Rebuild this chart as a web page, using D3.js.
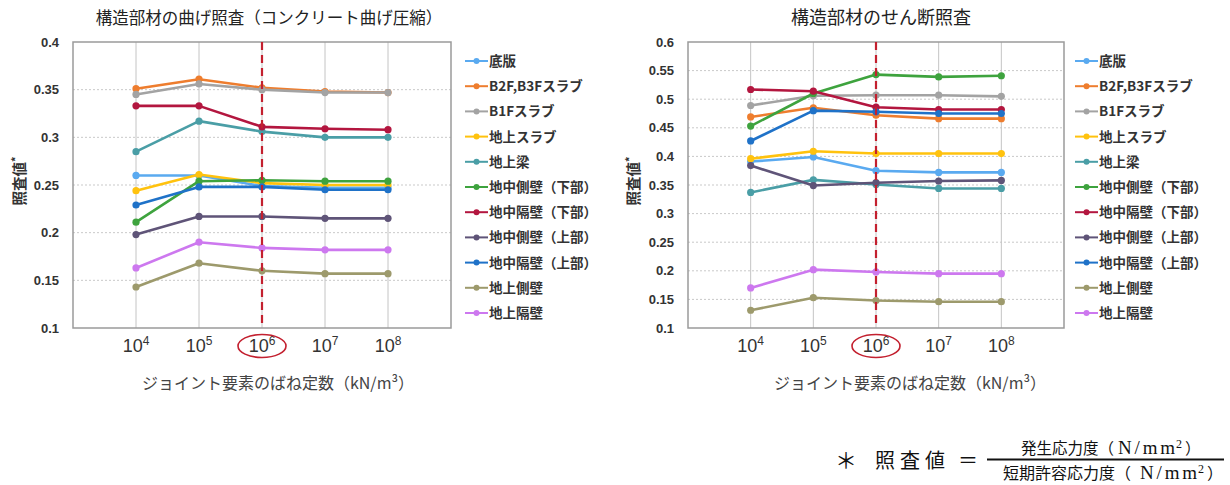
<!DOCTYPE html>
<html><head><meta charset="utf-8">
<script src="https://cdn.jsdelivr.net/npm/d3@7"></script>
<style>body{margin:0;background:#fff} svg{display:block}</style>
</head><body><svg id="c" width="1230" height="485"></svg>
<script>
// ---------- data ----------
const categories = ["10^4", "10^5", "10^6", "10^7", "10^8"];
const categoryExponents = ["4", "5", "6", "7", "8"];
const highlightCategory = "10^6";
const seriesNames = ["底版", "B2F,B3Fスラブ", "B1Fスラブ", "地上スラブ", "地上梁",
  "地中側壁（下部）", "地中隔壁（下部）", "地中側壁（上部）", "地中隔壁（上部）", "地上側壁", "地上隔壁"];
const bendingValues = [
  [0.260, 0.260, 0.249, 0.247, 0.247],
  [0.351, 0.361, 0.352, 0.348, 0.347],
  [0.345, 0.356, 0.350, 0.347, 0.347],
  [0.244, 0.261, 0.252, 0.250, 0.250],
  [0.285, 0.317, 0.306, 0.300, 0.300],
  [0.211, 0.254, 0.255, 0.254, 0.254],
  [0.333, 0.333, 0.311, 0.309, 0.308],
  [0.198, 0.217, 0.217, 0.215, 0.215],
  [0.229, 0.248, 0.248, 0.245, 0.245],
  [0.143, 0.168, 0.160, 0.157, 0.157],
  [0.163, 0.190, 0.184, 0.182, 0.182]
];
const shearValues = [
  [0.391, 0.399, 0.375, 0.372, 0.372],
  [0.469, 0.485, 0.472, 0.466, 0.466],
  [0.489, 0.506, 0.507, 0.507, 0.505],
  [0.396, 0.409, 0.405, 0.405, 0.405],
  [0.337, 0.359, 0.351, 0.344, 0.344],
  [0.453, 0.510, 0.543, 0.539, 0.541],
  [0.517, 0.514, 0.486, 0.482, 0.482],
  [0.384, 0.349, 0.354, 0.357, 0.358],
  [0.427, 0.480, 0.478, 0.475, 0.475],
  [0.131, 0.153, 0.148, 0.146, 0.146],
  [0.170, 0.202, 0.198, 0.195, 0.195]
];
const bendingTicks = [0.1, 0.15, 0.2, 0.25, 0.3, 0.35, 0.4];
const shearTicks = [0.1, 0.15, 0.2, 0.25, 0.3, 0.35, 0.4, 0.45, 0.5, 0.55, 0.6];
const bendingTitle = "構造部材の曲げ照査（コンクリート曲げ圧縮）";
const shearTitle = "構造部材のせん断照査";
const yAxisTitle = "照査値";
const xAxisTitle = "ジョイント要素のばね定数（kN/m³）";
const numeratorLabel = "発生応力度";
const denominatorLabel = "短期許容応力度";
const unitLabel = "N/mm";

// ---------- styles ----------
const seriesColors = ["#5aaaf0", "#ee7d2e", "#a3a3a3", "#ffc20e", "#4a9ea6",
  "#3ea33e", "#b3163f", "#5f5478", "#1f72c8", "#9d9a6c", "#cd78ef"];
const CJK = "'Noto Sans CJK JP', 'Noto Sans', sans-serif";
const SERIF = "'Liberation Serif', 'DejaVu Serif', serif";

const svg = d3.select("#c");
svg.append("rect").attr("width", 1230).attr("height", 485).attr("fill", "#fff");

function drawChart(cfg, values, ticks, title) {
  const g = svg.append("g");
  const x = d3.scalePoint().domain(categories).range([cfg.x0, cfg.x1]).padding(1);
  const y = d3.scaleLinear().domain([ticks[0], ticks[ticks.length - 1]]).range([cfg.y1, cfg.y0]);

  // horizontal dotted grid
  g.append("g").selectAll("line").data(ticks.slice(1, -1)).join("line")
    .attr("x1", cfg.x0).attr("x2", cfg.x1)
    .attr("y1", d => y(d)).attr("y2", d => y(d))
    .attr("stroke", "#c9c9c9").attr("stroke-width", 1).attr("stroke-dasharray", "2,2");
  // vertical grid
  g.append("g").selectAll("line").data(categories).join("line")
    .attr("x1", d => x(d)).attr("x2", d => x(d))
    .attr("y1", cfg.y0).attr("y2", cfg.y1)
    .attr("stroke", "#c4c4c4").attr("stroke-width", 1);
  // frame
  g.append("rect").attr("x", cfg.x0).attr("y", cfg.y0)
    .attr("width", cfg.x1 - cfg.x0).attr("height", cfg.y1 - cfg.y0)
    .attr("fill", "none").attr("stroke", "#9a9a9a").attr("stroke-width", 1.5);

  // y axis
  const yAxis = d3.axisLeft(y).tickValues(ticks).tickSize(0).tickPadding(14)
    .tickFormat(d => String(+d.toFixed(2)));
  const ya = g.append("g").attr("transform", `translate(${cfg.x0},0)`).call(yAxis);
  ya.select(".domain").remove();
  ya.selectAll("text").attr("font-family", "'Liberation Sans', Arial, sans-serif")
    .attr("font-weight", "bold").attr("font-size", 13).attr("fill", "#333");

  // x axis labels (with superscript)
  const xa = g.append("g");
  xa.selectAll("text").data(categories).join("text")
    .attr("x", (d) => x(d)).attr("y", cfg.y1 + 24)
    .attr("text-anchor", "middle")
    .attr("font-family", "'Liberation Sans', Arial, sans-serif")
    .attr("font-size", 18).attr("fill", "#333")
    .each(function (d, i) {
      const t = d3.select(this);
      t.append("tspan").text("10");
      t.append("tspan").attr("dy", -7).attr("font-size", 12).text(categoryExponents[i]);
    });

  // series
  const line = d3.line().x((d, i) => x(categories[i])).y(d => y(d));
  values.forEach((vals, s) => {
    g.append("path").attr("d", line(vals)).attr("fill", "none")
      .attr("stroke", seriesColors[s]).attr("stroke-width", 2.6).attr("stroke-linejoin", "round");
    g.append("g").selectAll("circle").data(vals).join("circle")
      .attr("cx", (d, i) => x(categories[i])).attr("cy", d => y(d)).attr("r", 3.6)
      .attr("fill", seriesColors[s]);
  });

  // highlight
  const hx = x(highlightCategory);
  g.append("line").attr("x1", hx).attr("x2", hx).attr("y1", cfg.y0).attr("y2", cfg.y1)
    .attr("stroke", "#c3202f").attr("stroke-width", 2.2).attr("stroke-dasharray", "8,5");
  g.append("ellipse").attr("cx", hx).attr("cy", cfg.y1 + 18).attr("rx", 24).attr("ry", 11.5)
    .attr("fill", "none").attr("stroke", "#c3202f").attr("stroke-width", 1.6);

  // title
  g.append("text").attr("x", cfg.titleX).attr("y", 24).attr("text-anchor", "middle")
    .attr("font-family", CJK).attr("font-size", cfg.titleSize).attr("fill", "#222").text(title);

  // x title
  g.append("text").attr("x", cfg.xTitleX).attr("y", cfg.y1 + 61).attr("text-anchor", "middle")
    .attr("font-family", CJK).attr("font-size", 16).attr("fill", "#444")
    .text(xAxisTitle);

  // y title
  const yt = g.append("text").attr("transform", `translate(${cfg.yTitleX},${181}) rotate(-90)`)
    .attr("text-anchor", "middle").attr("font-family", CJK).attr("font-weight", "bold")
    .attr("font-size", 14.5).attr("fill", "#333");
  yt.append("tspan").text(yAxisTitle);
  yt.append("tspan").attr("dy", -5).attr("font-size", 11).text("*");

  // legend
  const lg = g.append("g");
  seriesNames.forEach((name, s) => {
    const ly = 61 + s * 25.2;
    lg.append("line").attr("x1", cfg.legendX).attr("x2", cfg.legendX + 23)
      .attr("y1", ly).attr("y2", ly).attr("stroke", seriesColors[s]).attr("stroke-width", 2);
    lg.append("circle").attr("cx", cfg.legendX + 11.5).attr("cy", ly).attr("r", 3)
      .attr("fill", seriesColors[s]);
    lg.append("text").attr("x", cfg.legendX + 24).attr("y", ly + 5)
      .attr("font-family", CJK).attr("font-weight", "bold").attr("font-size", 13.5)
      .attr("fill", "#333").text(name);
  });
}

drawChart({ x0: 73, x1: 451, y0: 42, y1: 328, titleX: 269, titleSize: 16.5, xTitleX: 278, yTitleX: 25, legendX: 465 },
  bendingValues, bendingTicks, bendingTitle);
drawChart({ x0: 688, x1: 1064, y0: 42, y1: 328, titleX: 881, titleSize: 18, xTitleX: 910, yTitleX: 639, legendX: 1075 },
  shearValues, shearTicks, shearTitle);

// formula
const f = svg.append("g").attr("font-family", CJK).attr("fill", "#111");
f.append("text").attr("x", 846).attr("y", 468).attr("text-anchor", "middle").attr("font-size", 22).text("＊");
f.append("text").attr("x", 875).attr("y", 468).attr("font-size", 20).attr("letter-spacing", 5).text(yAxisTitle);
f.append("text").attr("x", 968).attr("y", 468).attr("text-anchor", "middle").attr("font-size", 20).text("＝");
f.append("line").attr("x1", 987).attr("x2", 1224).attr("y1", 459.5).attr("y2", 459.5)
  .attr("stroke", "#111").attr("stroke-width", 2.2);
function fracText(o) {
  f.append("text").attr("x", o.x).attr("y", o.y).attr("font-size", o.size).text(o.label + "（");
  f.append("text").attr("x", o.unitX).attr("y", o.y).attr("font-family", SERIF).attr("font-size", 19)
    .attr("textLength", 57).attr("lengthAdjust", "spacing").text(unitLabel);
  f.append("text").attr("x", o.unitX + 58).attr("y", o.y - 6).attr("font-family", SERIF)
    .attr("font-size", 12).text("2");
  f.append("text").attr("x", o.closeX).attr("y", o.y).attr("font-size", o.size).text("）");
}
fracText({ label: numeratorLabel, x: 1021, y: 454, size: 15.5, unitX: 1118, closeX: 1185 });
fracText({ label: denominatorLabel, x: 1003, y: 479, size: 16, unitX: 1140, closeX: 1207 });
</script></body></html>
